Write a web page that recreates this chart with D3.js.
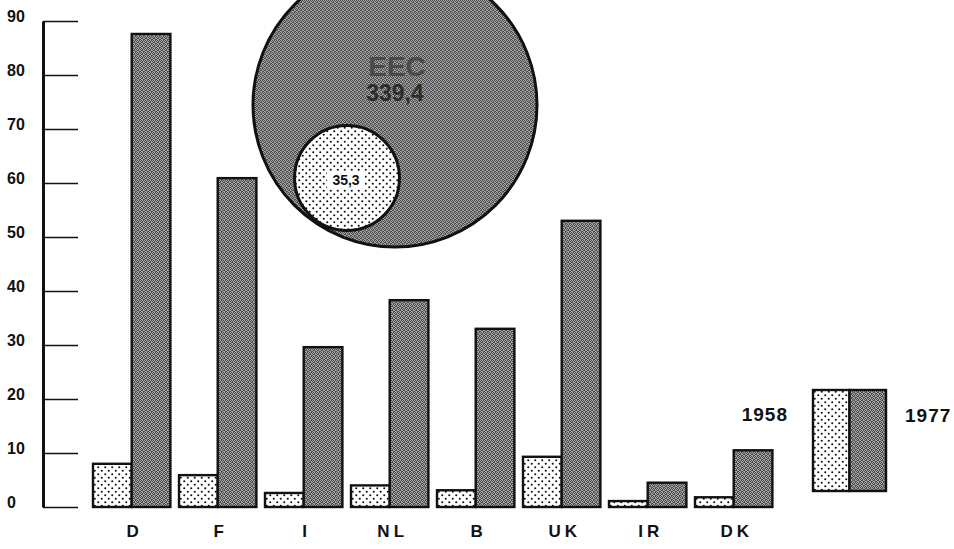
<!DOCTYPE html>
<html>
<head>
<meta charset="utf-8">
<script src="https://cdn.jsdelivr.net/npm/d3@7"></script>
<style>
  body { margin: 0; background: #fff; }
  svg { display: block; }
  text { font-family: "Liberation Sans", Arial, Helvetica, sans-serif; font-weight: bold; }
</style>
</head>
<body>
<div id="chart"></div>
<script>
// Data
const countries = ["D", "F", "I", "NL", "B", "UK", "IR", "DK"];
const values1958 = [8.0, 5.9, 2.6, 4.0, 3.1, 9.3, 1.1, 1.8];
const values1977 = [87.6, 60.9, 29.6, 38.3, 33.0, 53.0, 4.5, 10.5];
const years = ["1958", "1977"];
const totals = [35.3, 339.4];
const yTicks = [0, 10, 20, 30, 40, 50, 60, 70, 80, 90];

const width = 954;
const height = 549;

const svg = d3.select("#chart")
  .append("svg")
  .attr("width", width)
  .attr("height", height);

// Patterns: dotted for 1958, grey halftone for 1977
const defs = svg.append("defs");

const dots = defs.append("pattern")
  .attr("id", "dots")
  .attr("patternUnits", "userSpaceOnUse")
  .attr("width", 7)
  .attr("height", 7);
dots.append("rect").attr("width", 7).attr("height", 7).attr("fill", "#fff");
dots.append("circle").attr("cx", 1.75).attr("cy", 1.75).attr("r", 1.05).attr("fill", "#111");
dots.append("circle").attr("cx", 5.25).attr("cy", 5.25).attr("r", 1.05).attr("fill", "#111");

// irregular dark pixels on a light grey, looks like a screened print
const toneCells = [[0, 0], [2, 0], [3, 1], [1, 1], [0, 2], [2, 3], [3, 3], [1, 2]];
const tone = defs.append("pattern")
  .attr("id", "tone")
  .attr("patternUnits", "userSpaceOnUse")
  .attr("width", 4)
  .attr("height", 4);
tone.append("rect").attr("width", 4).attr("height", 4).attr("fill", "#a4a4a4");
tone.selectAll(".px")
  .data(toneCells)
  .enter()
  .append("rect")
  .attr("x", d => d[0])
  .attr("y", d => d[1])
  .attr("width", 1)
  .attr("height", 1)
  .attr("fill", "#4c4c4c");

const fills = ["url(#dots)", "url(#tone)"];

// Scales
const y = d3.scaleLinear()
  .domain([0, 90])
  .range([507, 21]);

const x = d3.scaleBand()
  .domain(countries)
  .range([88.7, 776.7])
  .paddingInner(0.1)
  .paddingOuter(0.05);

const xSub = d3.scaleBand()
  .domain(years)
  .range([0, x.bandwidth()]);

// Y axis, ticks pointing right, labels on the left
const yAxis = d3.axisLeft(y)
  .tickValues(yTicks)
  .tickSizeInner(-35)
  .tickSizeOuter(0)
  .tickFormat(d3.format("d"));

const gy = svg.append("g")
  .attr("transform", "translate(43,0)")
  .call(yAxis)
  .attr("font-family", null)
  .attr("font-size", null);

gy.select(".domain")
  .attr("stroke", "#111")
  .attr("stroke-width", 3);
gy.selectAll(".tick line")
  .attr("stroke", "#111")
  .attr("stroke-width", 1.6);
gy.selectAll(".tick text")
  .attr("x", -36)
  .attr("dy", 0)
  .attr("text-anchor", "start")
  .attr("fill", "#111")
  .style("font-size", "16px");

// Big circle: EEC total, small circle inside
const r = d3.scalePow()
  .exponent(0.44)
  .domain([0, totals[1]])
  .range([0, 142]);

svg.append("circle")
  .attr("cx", 395)
  .attr("cy", 105)
  .attr("r", r(totals[1]))
  .attr("fill", "url(#tone)")
  .attr("stroke", "#111")
  .attr("stroke-width", 3);

svg.append("text")
  .attr("x", 397)
  .attr("y", 76)
  .attr("text-anchor", "middle")
  .attr("fill", "#4a4a4a")
  .style("font-size", "28px")
  .text("EEC");

svg.append("text")
  .attr("x", 395)
  .attr("y", 101)
  .attr("text-anchor", "middle")
  .attr("fill", "#2c2c2c")
  .style("font-size", "23px")
  .text(String(totals[1]).replace(".", ","));

svg.append("circle")
  .attr("cx", 347)
  .attr("cy", 178)
  .attr("r", r(totals[0]))
  .attr("fill", "url(#dots)")
  .attr("stroke", "#111")
  .attr("stroke-width", 3);

svg.append("rect")
  .attr("x", 327)
  .attr("y", 171)
  .attr("width", 38)
  .attr("height", 17)
  .attr("fill", "#fff");

svg.append("text")
  .attr("x", 346)
  .attr("y", 185)
  .attr("text-anchor", "middle")
  .attr("fill", "#111")
  .style("font-size", "14px")
  .text(String(totals[0]).replace(".", ","));

// Bars
const rows = countries.map((c, i) => ({ country: c, values: [values1958[i], values1977[i]] }));

const groups = svg.selectAll(".group")
  .data(rows)
  .enter()
  .append("g")
  .attr("class", "group")
  .attr("transform", d => `translate(${x(d.country)},0)`);

groups.selectAll("rect")
  .data(d => d.values.map((v, j) => ({ year: years[j], value: v, j })))
  .enter()
  .append("rect")
  .attr("x", d => xSub(d.year))
  .attr("y", d => y(d.value))
  .attr("width", xSub.bandwidth())
  .attr("height", d => y(0) - y(d.value))
  .attr("fill", d => fills[d.j])
  .attr("stroke", "#111")
  .attr("stroke-width", 2.4);

// Country labels
svg.selectAll(".country")
  .data(countries)
  .enter()
  .append("text")
  .attr("class", "country")
  .attr("x", d => x(d) + x.bandwidth() / 2 + 3)
  .attr("y", 537)
  .attr("text-anchor", "middle")
  .attr("fill", "#111")
  .style("font-size", "17px")
  .style("letter-spacing", "4px")
  .text(d => d);

// Legend
const legend = svg.append("g").attr("transform", "translate(813,390)");

legend.selectAll("rect")
  .data(years)
  .enter()
  .append("rect")
  .attr("x", (d, i) => i * 36.5)
  .attr("y", 0)
  .attr("width", 36.5)
  .attr("height", 101)
  .attr("fill", (d, i) => fills[i])
  .attr("stroke", "#111")
  .attr("stroke-width", 2.4);

legend.append("text")
  .attr("x", -25)
  .attr("y", 31)
  .attr("text-anchor", "end")
  .attr("fill", "#111")
  .style("font-size", "19px")
  .style("letter-spacing", "1px")
  .text(years[0]);

legend.append("text")
  .attr("x", 92)
  .attr("y", 32)
  .attr("text-anchor", "start")
  .attr("fill", "#111")
  .style("font-size", "19px")
  .style("letter-spacing", "1px")
  .text(years[1]);
</script>
</body>
</html>
